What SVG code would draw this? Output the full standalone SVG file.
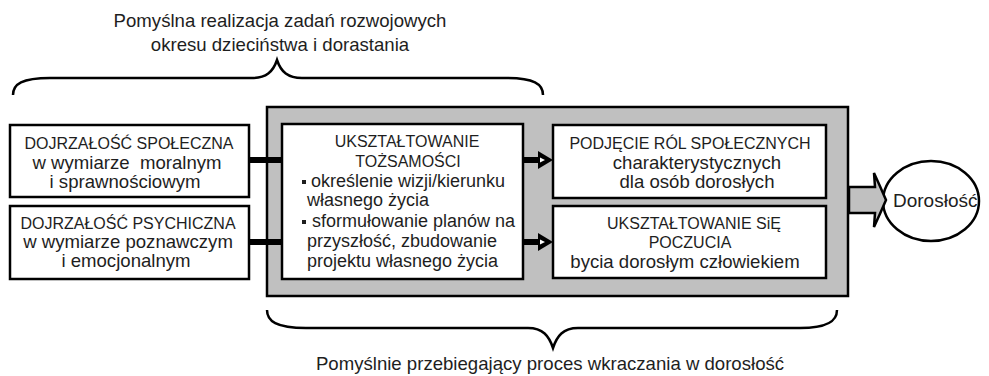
<svg xmlns="http://www.w3.org/2000/svg" width="989" height="376" viewBox="0 0 989 376">
<defs>
<style>
.t{font-family:"Liberation Sans",Arial,sans-serif;fill:#1e1e1e;text-anchor:middle}
.c{font-size:16px}
.l{font-size:18.6px}
.m{font-size:18px;text-anchor:start}
.box{fill:#fff;stroke:#000;stroke-width:2.5}
.brace{fill:none;stroke:#000;stroke-width:2.5}
.thick{stroke:#000;stroke-width:6;fill:none}
</style>
</defs>
<rect width="989" height="376" fill="#fff"/>

<g id="top-label">
<path class="brace" d="M13,95 C13,84 22,78 50,78 L252,78 C266,78 273,72 277,60 C281,72 288,78 302,78 L506,78 C534,78 543,84 543,95"/>
<text class="t l" x="280" y="27">Pomyślna realizacja zadań rozwojowych</text>
<text class="t l" x="280" y="51">okresu dzieciństwa i dorastania</text>
</g>

<g id="container">
<rect x="267" y="107" width="581" height="189" fill="#c0c0c0" stroke="#000" stroke-width="2.5"/>
</g>

<g id="left-social">
<rect class="box" x="10" y="125" width="239" height="72"/>
<text class="t c" x="129" y="149">DOJRZAŁOŚĆ SPOŁECZNA</text>
<text class="t l" x="127" y="169" xml:space="preserve">w wymiarze  moralnym</text>
<text class="t l" x="125" y="188">i sprawnościowym</text>
</g>

<g id="left-psych">
<rect class="box" x="10" y="206" width="239" height="73"/>
<text class="t c" x="128" y="229">DOJRZAŁOŚĆ PSYCHICZNA</text>
<text class="t l" x="128" y="248">w wymiarze poznawczym</text>
<text class="t l" x="126" y="267">i emocjonalnym</text>
</g>

<g id="identity">
<rect class="box" x="282" y="124" width="241" height="155"/>
<text class="t c" x="407" y="147">UKSZTAŁTOWANIE</text>
<text class="t c" x="408" y="167">TOŻSAMOŚCI</text>
<rect x="302" y="180" width="4" height="4" fill="#1e1e1e"/>
<text class="t m" x="311" y="187">określenie wizji/kierunku</text>
<text class="t m" x="307" y="206">własnego życia</text>
<rect x="302" y="220" width="4" height="4" fill="#1e1e1e"/>
<text class="t m" x="312" y="227">sformułowanie planów na</text>
<text class="t m" x="307" y="247">przyszłość, zbudowanie</text>
<text class="t m" x="307" y="267">projektu własnego życia</text>
</g>

<g id="roles">
<rect class="box" x="553" y="125" width="273" height="73"/>
<text class="t c" x="690" y="149">PODJĘCIE RÓL SPOŁECZNYCH</text>
<text class="t l" x="697" y="169">charakterystycznych</text>
<text class="t l" x="697" y="188">dla osób dorosłych</text>
</g>

<g id="feeling">
<rect class="box" x="553" y="206" width="273" height="72"/>
<text class="t c" x="694" y="229">UKSZTAŁTOWANIE SiĘ</text>
<text class="t c" x="690" y="248">POCZUCIA</text>
<text class="t l" x="685" y="268">bycia dorosłym człowiekiem</text>
</g>

<g id="adulthood">
<ellipse cx="931" cy="201" rx="48" ry="40" fill="#fff" stroke="#000" stroke-width="2.5"/>
<text class="t" style="font-size:19px;text-anchor:start" x="893" y="207">Dorosłość</text>
</g>

<g id="connectors">
<line class="thick" x1="249" y1="160" x2="283" y2="160"/>
<line class="thick" x1="249" y1="242" x2="283" y2="242"/>
<line class="thick" x1="523" y1="160" x2="540" y2="160"/>
<path d="M538,151 L553,160 L538,169 Z" fill="#000"/>
<path d="M540,157.5 L545,160 L540,162.5 Z" fill="#fff"/>
<line class="thick" x1="523" y1="242" x2="540" y2="242"/>
<path d="M538,233 L553,242 L538,251 Z" fill="#000"/>
<path d="M540,239.5 L545,242 L540,244.5 Z" fill="#fff"/>
<path d="M849,187 L875,187 L874,173 Q880,186 886,200 Q880,214 874,227 L875,213 L849,213 Z" fill="#c0c0c0" stroke="#000" stroke-width="2.5" stroke-linejoin="miter"/>
</g>

<g id="bottom-label">
<path class="brace" d="M267,310 C267,321 276,328 306,328 L528,328 C543,328 549,336 553,348 C557,336 563,328 578,328 L800,328 C828,328 837,321 837,310"/>
<text class="t l" x="550" y="370">Pomyślnie przebiegający proces wkraczania w dorosłość</text>
</g>
</svg>
